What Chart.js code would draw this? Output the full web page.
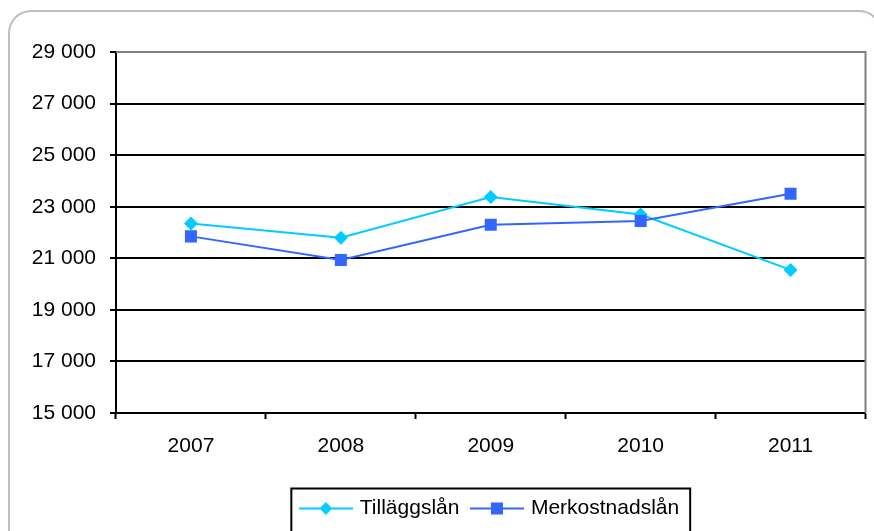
<!DOCTYPE html>
<html>
<head>
<meta charset="utf-8">
<script src="https://cdn.jsdelivr.net/npm/chart.js@4/dist/chart.umd.min.js"></script>
<style>
  body { margin: 0; background: #fff; }
  #wrap { width: 874px; height: 531px; }
</style>
</head>
<body>
<div id="wrap"><canvas id="lan" width="874" height="531"></canvas></div>
<script>
var years = ["2007", "2008", "2009", "2010", "2011"]
var tillaggslan = [22350, 21800, 23380, 22700, 20550]
var merkostnadslan = [21850, 20930, 22300, 22450, 23500]
var yMin = 15000, yMax = 29000, yStep = 2000

var cyan = "#00CCFF", blue = "#3366FF"

// legend sample: short line with the marker in the middle
function legendMark(color, shape) {
    var c = document.createElement("canvas")
    c.width = 54; c.height = 16
    var g = c.getContext("2d")
    g.strokeStyle = color; g.lineWidth = 2
    g.beginPath(); g.moveTo(0, 8); g.lineTo(54, 8); g.stroke()
    g.fillStyle = color
    g.beginPath()
    if (shape == "diamond") {
        g.moveTo(27, 1.5); g.lineTo(33.5, 8); g.lineTo(27, 14.5); g.lineTo(20.5, 8)
    } else {
        g.rect(21, 2, 12, 12)
    }
    g.fill()
    return c
}
var marks = [legendMark(cyan, "diamond"), legendMark(blue, "square")]

function fmt(v) {
    return String(v).replace(/\B(?=(\d{3})+(?!\d))/g, " ")
}

var frame = {
    id: "frame",
    beforeDraw(chart) {
        var ctx = chart.ctx
        ctx.save()
        ctx.strokeStyle = "#BFBFBF"; ctx.lineWidth = 2
        ctx.beginPath(); ctx.roundRect(9, 11, 872, 600, 22); ctx.stroke()
        ctx.restore()
    },
    beforeDatasetsDraw(chart) {
        var a = chart.chartArea, ctx = chart.ctx
        ctx.save()
        ctx.strokeStyle = "#808080"; ctx.lineWidth = 2
        ctx.beginPath()
        ctx.moveTo(a.left, a.top); ctx.lineTo(a.right, a.top); ctx.lineTo(a.right, a.bottom)
        ctx.stroke()
        ctx.restore()
    },
    afterDraw(chart) {
        var hb = chart.legend.legendHitBoxes
        if (!hb || !hb.length) return
        var first = hb[0], last = hb[hb.length - 1]
        var mid = first.top + first.height / 2
        var ctx = chart.ctx
        ctx.save()
        ctx.strokeStyle = "#000"; ctx.lineWidth = 2
        ctx.strokeRect(first.left - 11, mid - 20, last.left + last.width - first.left + 22, 60)
        ctx.restore()
    }
}

Chart.defaults.font.family = "'Liberation Sans', Arial, sans-serif"
Chart.defaults.font.size = 21
Chart.defaults.color = "#000"

new Chart("lan", {
    type: "line",
    data: {
        labels: years,
        datasets: [{
            label: "Tilläggslån",
            data: tillaggslan,
            borderColor: cyan, backgroundColor: cyan,
            borderWidth: 2, pointStyle: "rectRot", pointRadius: 7,
            pointBorderWidth: 0, tension: 0, order: 1
        }, {
            label: "Merkostnadslån",
            data: merkostnadslan,
            borderColor: blue, backgroundColor: blue,
            borderWidth: 2, pointStyle: "rect", pointRadius: 8.5,
            pointBorderWidth: 0, tension: 0, order: 0
        }]
    },
    options: {
        responsive: false,
        animation: false,
        events: [],
        layout: {padding: {left: 0, right: 8, top: 52, bottom: 2}},
        plugins: {
            tooltip: {enabled: false},
            legend: {
                position: "bottom",
                fullSize: false,
                labels: {
                    usePointStyle: true,
                    pointStyleWidth: 47,
                    padding: 14,
                    generateLabels(chart) {
                        return chart.data.datasets.map((d, i) => ({
                            text: d.label, datasetIndex: i, pointStyle: marks[i],
                            fillStyle: d.borderColor, strokeStyle: d.borderColor,
                            lineWidth: 0, fontColor: "#000", hidden: false
                        }))
                    }
                }
            }
        },
        scales: {
            x: {
                offset: true,
                grid: {offset: true, drawOnChartArea: false, drawTicks: true, tickLength: 6,
                       tickColor: "#000", tickWidth: 2},
                border: {color: "#000", width: 2},
                ticks: {padding: 15, maxRotation: 0},
                afterFit(s) { s.height = 71 }
            },
            y: {
                min: yMin, max: yMax,
                grid: {
                    color: c => c.tick && c.tick.value == yMax ? "#808080" : "#000",
                    lineWidth: 2, tickLength: 6, tickColor: "#000", tickWidth: 2
                },
                border: {color: "#000", width: 2},
                ticks: {stepSize: yStep, padding: 14, callback: v => fmt(v)},
                afterFit(s) { s.width = 116 }
            }
        }
    },
    plugins: [frame]
})
</script>
</body>
</html>
